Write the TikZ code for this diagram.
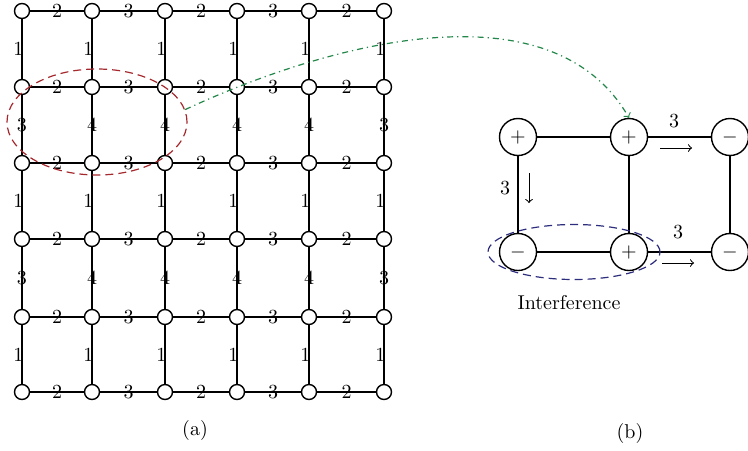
\documentclass[tikz,border=0pt]{standalone}
\usetikzlibrary{shapes.geometric}
\definecolor{zonered}{RGB}{165,40,45}
\definecolor{pairblue}{RGB}{45,45,125}
\definecolor{linkgreen}{RGB}{35,135,75}
\begin{document}
\begin{tikzpicture}[x=0.5pt, y=-0.5pt, line width=0.7pt,
  main/.style = {draw,circle,fill=white,inner sep=0pt,minimum size=7.5pt},
  sign/.style = {draw,circle,fill=white,inner sep=0pt,minimum size=18.5pt},
  lab/.style = {inner sep=0pt}]
  \useasboundingbox (0,0) rectangle (748,450);
  % grid (a)
  \foreach \i/\x in {1/22,2/92,3/165,4/237,5/309,6/384}
    \foreach \j/\y in {1/11,2/87,3/163,4/239,5/317,6/392}
      \node[main] (g\i\j) at (\x,\y) {};
  \foreach \j in {1,...,6}
    \foreach \i/\n/\w in {1/2/2,2/3/3,3/4/2,4/5/3,5/6/2}
      \draw (g\i\j) to node[lab] {\w} (g\n\j);
  \foreach \i in {1,...,6}
    \foreach \j/\n in {1/2,3/4,5/6}
      \draw (g\i\j) to node[lab, xshift=-1.8pt] {1} (g\i\n);
  \foreach \i/\w in {1/3,2/4,3/4,4/4,5/4,6/3}
    \foreach \j/\n in {2/3,4/5}
      \draw (g\i\j) to node[lab] {\w} (g\i\n);
  \node[draw=zonered, line width=0.6pt, dash pattern=on 4pt off 2.5pt, ellipse,
    minimum width=90pt, minimum height=53pt] (zone) at (97,122) {};
  \node (capa) at (195,430) {(a)};
  % cells (b)
  \node[sign] (p1) at (518,137) {$+$};
  \node[sign] (p2) at (629,137) {$+$};
  \node[sign] (p3) at (730,137) {$-$};
  \node[sign] (q1) at (518,252) {$-$};
  \node[sign] (q2) at (629,252) {$+$};
  \node[sign] (q3) at (730,252) {$-$};
  \draw (p1) to (p2);
  \draw (p2) to (p3);
  \draw (q1) to (q2);
  \draw (q2) to (q3);
  \draw (p1) to (q1);
  \draw (p2) to (q2);
  \draw (p3) to (q3);
  \coordinate (d1) at (529,173);
  \coordinate (d2) at (529,203);
  \coordinate (r1) at (660,148);
  \coordinate (r2) at (692,148);
  \coordinate (s1) at (662,263);
  \coordinate (s2) at (694,263);
  \draw[->, line width=0.5pt] (d1) to (d2);
  \draw[->, line width=0.5pt] (r1) to (r2);
  \draw[->, line width=0.5pt] (s1) to (s2);
  \node[lab] (w1) at (505,188) {3};
  \node[lab] (w2) at (674,121) {3};
  \node[lab] (w3) at (678,232) {3};
  \node[draw=pairblue, line width=0.6pt, dash pattern=on 4pt off 2.5pt, ellipse,
    minimum width=86pt, minimum height=27.5pt] (pair) at (574,252) {};
  \node (note) at (569,303) {Interference};
  \node (capb) at (630,433) {(b)};
  \draw[linkgreen, line width=0.6pt, dash dot, ->] (zone.8) to [out=25, in=120, looseness=0.9] (p2.north);
\end{tikzpicture}
\end{document}
